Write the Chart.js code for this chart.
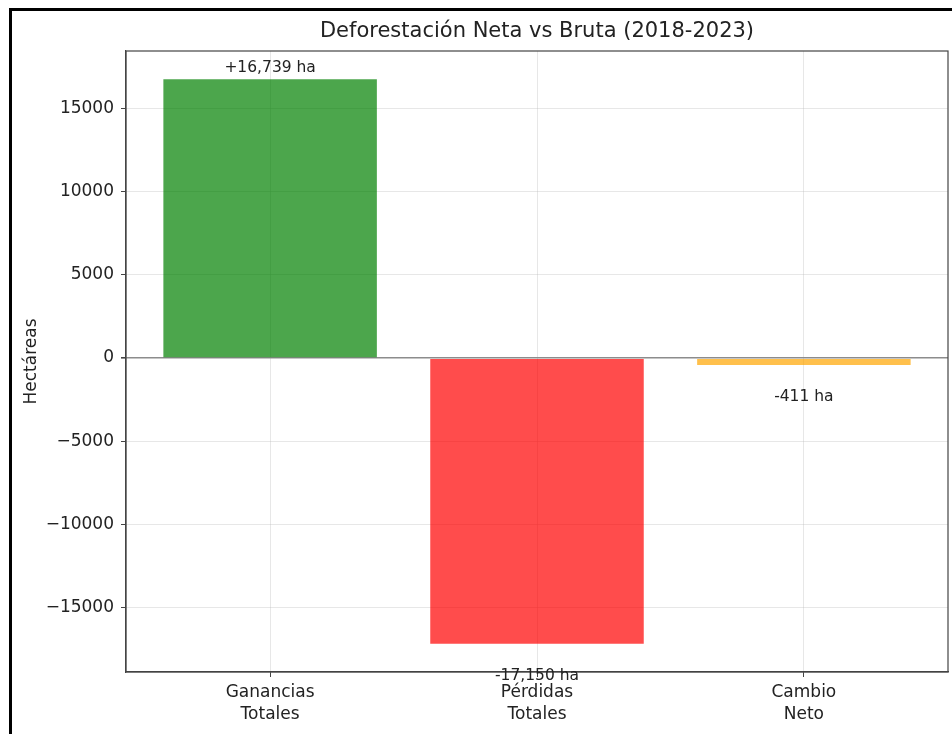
<!DOCTYPE html>
<html>
<head>
<meta charset="utf-8">
<script src="https://cdn.jsdelivr.net/npm/chart.js@4.4.0/dist/chart.umd.min.js"></script>
<style>
  html, body { margin: 0; padding: 0; background: #fff; }
  #wrap { position: relative; width: 952px; height: 734px; }
  canvas { display: block; }
</style>
</head>
<body>
<div id="wrap"><canvas id="c" width="952" height="734"></canvas></div>
<script>
const categories = [['Ganancias', 'Totales'], ['Pérdidas', 'Totales'], ['Cambio', 'Neto']];
const values = [16739, -17150, -411];
const barColors = ['rgba(0,128,0,0.7)', 'rgba(255,0,0,0.7)', 'rgba(255,165,0,0.7)'];
const yTicks = [-15000, -10000, -5000, 0, 5000, 10000, 15000];
const titleText = 'Deforestación Neta vs Bruta (2018-2023)';
const yTitle = 'Hectáreas';

const FONT = "'DejaVu Sans', sans-serif";
const dataMin = Math.min(...values), dataMax = Math.max(...values);
const span = dataMax - dataMin;
const yMin = dataMin - span * 0.05, yMax = dataMax + span * 0.05;

function fmtLabel(v) {
  const s = Math.abs(v).toLocaleString('en-US');
  return (v >= 0 ? '+' : '-') + s + ' ha';
}
function fmtTick(v) {
  return v < 0 ? '\u2212' + Math.abs(v) : String(v);
}

const decor = {
  id: 'decor',
  afterDatasetsDraw(chart) {
    const ctx = chart.ctx, a = chart.chartArea;
    const xs = chart.scales.x, ys = chart.scales.y;
    ctx.save();
    ctx.strokeStyle = '#444';
    ctx.lineWidth = 1.2;
    ctx.strokeRect(a.left, a.top, a.right - a.left, a.bottom - a.top);
    ctx.fillStyle = '#222';
    ctx.font = '15.5px ' + FONT;
    ctx.textAlign = 'center';
    values.forEach((v, i) => {
      const x = xs.getPixelForValue(i);
      if (v >= 0) {
        ctx.textBaseline = 'bottom';
        ctx.fillText(fmtLabel(v), x, ys.getPixelForValue(v + 200));
      } else {
        ctx.textBaseline = 'top';
        ctx.fillText(fmtLabel(v), x, ys.getPixelForValue(v - 1450));
      }
    });
    ctx.font = '21px ' + FONT;
    ctx.textBaseline = 'middle';
    ctx.fillText(titleText, (a.left + a.right) / 2, 32);
    ctx.font = '17px ' + FONT;
    ctx.translate(32, (a.top + a.bottom) / 2);
    ctx.rotate(-Math.PI / 2);
    ctx.fillText(yTitle, 0, 0);
    ctx.restore();
    ctx.save();
    ctx.fillStyle = '#000';
    ctx.fillRect(9, 8, 943, 3);
    ctx.fillRect(9, 8, 3, 726);
    ctx.restore();
  }
};

new Chart(document.getElementById('c'), {
  type: 'bar',
  data: {
    datasets: [{
      data: values.map((v, i) => ({ x: i, y: v })),
      backgroundColor: barColors,
      borderWidth: 0,
      barPercentage: 0.8,
      categoryPercentage: 1.0
    }]
  },
  options: {
    responsive: false,
    animation: false,
    devicePixelRatio: 1,
    layout: { padding: { top: 51, right: 4, left: 0, bottom: 0 } },
    plugins: { legend: { display: false }, tooltip: { enabled: false }, title: { display: false } },
    scales: {
      x: {
        type: 'linear',
        offset: false,
        min: -0.54,
        max: 2.54,
        afterBuildTicks(scale) { scale.ticks = categories.map((c, i) => ({ value: i })); },
        afterFit(scale) { scale.height = 62; },
        ticks: {
          callback: (v) => categories[v] || '',
          color: '#222',
          font: { family: FONT, size: 17, lineHeight: 1.32 },
          padding: 4,
          maxRotation: 0,
          autoSkip: false
        },
        grid: { offset: false, color: 'rgba(176,176,176,0.3)', lineWidth: 1, tickColor: '#444', tickLength: 5 },
        border: { color: '#444', width: 1.2 }
      },
      y: {
        min: yMin,
        max: yMax,
        afterBuildTicks(scale) { scale.ticks = yTicks.map(v => ({ value: v })); },
        afterFit(scale) { scale.width = 126; },
        ticks: {
          callback: (v) => fmtTick(v),
          color: '#222',
          font: { family: FONT, size: 17 },
          padding: 7
        },
        grid: {
          color: (c) => (c.tick && c.tick.value === 0) ? '#8c8c8c' : 'rgba(176,176,176,0.3)',
          lineWidth: (c) => (c.tick && c.tick.value === 0) ? 1.6 : 1,
          tickColor: '#444',
          tickLength: 5
        },
        border: { color: '#444', width: 1.2 }
      }
    }
  },
  plugins: [decor]
});
</script>
</body>
</html>
